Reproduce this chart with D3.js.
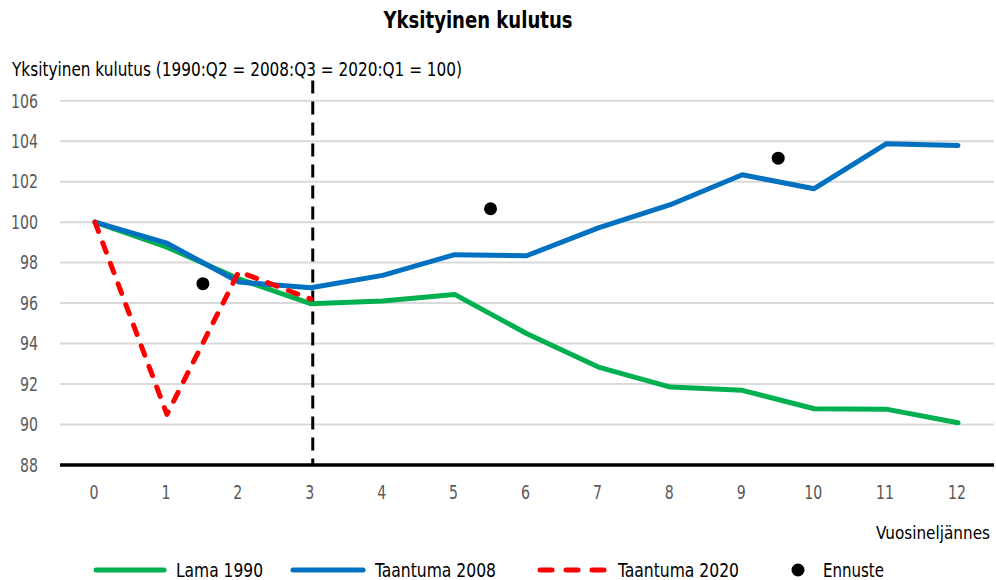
<!DOCTYPE html>
<html><head><meta charset="utf-8">
<script src="https://cdn.jsdelivr.net/npm/d3@7"></script>
<style>body{margin:0;background:#fff}svg{display:block}text{font-family:"DejaVu Sans Condensed","DejaVu Sans",sans-serif}</style>
</head><body><svg id="c" width="996" height="580"></svg>
<script>
const quarters = [0,1,2,3,4,5,6,7,8,9,10,11,12];
const lama1990 = [100,98.76,97.2,95.97,96.1,96.43,94.5,92.84,91.85,91.69,90.78,90.76,90.09];
const taantuma2008 = [100,98.96,97.04,96.76,97.37,98.39,98.34,99.72,100.86,102.34,101.65,103.87,103.79];
const taantuma2020 = [100,90.5,97.55,96.2];
const ennusteX = [1.5,5.5,9.5];
const ennusteY = [96.96,100.66,103.16];
const yTicks = [88,90,92,94,96,98,100,102,104,106];
const markerX = 3;

const svg = d3.select("#c");
const x = d3.scaleLinear().domain([0,12]).range([95,958]);
const y = d3.scaleLinear().domain([88,106]).range([465,100.7]);

function fit(sel, w){ sel.attr("textLength", w).attr("lengthAdjust","spacingAndGlyphs"); return sel; }

// gridlines
svg.append("g").selectAll("line").data(yTicks.filter(d=>d>88)).join("line")
  .attr("x1",60).attr("x2",994).attr("y1",d=>y(d)).attr("y2",d=>y(d))
  .attr("stroke","#d9d9d9").attr("stroke-width",2);

// y tick labels
svg.append("g").selectAll("text").data(yTicks).join("text")
  .attr("x",38).attr("y",d=>y(d)).attr("dy","0.36em").attr("text-anchor","end")
  .attr("font-size",19).attr("fill","#595959").text(d=>d)
  .attr("textLength",d=>String(d).length*9).attr("lengthAdjust","spacingAndGlyphs");

// x tick labels
svg.append("g").selectAll("text").data(quarters).join("text")
  .attr("x",d=>x(d)-1).attr("y",492).attr("dy","0.36em").attr("text-anchor","middle")
  .attr("font-size",19).attr("fill","#595959").text(d=>d)
  .attr("textLength",d=>String(d).length*9).attr("lengthAdjust","spacingAndGlyphs");

// vertical dashed line
svg.append("line").attr("x1",x(markerX)+2).attr("x2",x(markerX)+2).attr("y1",y(107)).attr("y2",y(88))
  .attr("stroke","#000").attr("stroke-width",3).attr("stroke-dasharray","13,8");

const line = d3.line().x((d,i)=>x(quarters[i])).y(d=>y(d));
svg.append("path").attr("d",line(lama1990)).attr("fill","none").attr("stroke","#00b050")
  .attr("stroke-width",5).attr("stroke-linejoin","round").attr("stroke-linecap","round");
svg.append("path").attr("d",line(taantuma2008)).attr("fill","none").attr("stroke","#0070c0")
  .attr("stroke-width",5).attr("stroke-linejoin","round").attr("stroke-linecap","round");
svg.append("path").attr("d",line(taantuma2020)).attr("fill","none").attr("stroke","#ff0000")
  .attr("stroke-width",5).attr("stroke-linejoin","round").attr("stroke-linecap","round")
  .attr("stroke-dasharray","10,12");

svg.append("g").selectAll("circle").data(ennusteX).join("circle")
  .attr("cx",d=>x(d)).attr("cy",(d,i)=>y(ennusteY[i])).attr("r",6.5).attr("fill","#000");

// x axis line
svg.append("line").attr("x1",60).attr("x2",994).attr("y1",y(88)).attr("y2",y(88))
  .attr("stroke","#000").attr("stroke-width",3.5);

// title & labels
fit(svg.append("text").attr("x",478).attr("y",28).attr("text-anchor","middle").attr("font-size",23)
  .attr("font-weight","bold").attr("fill","#000").text("Yksityinen kulutus"), 189);
fit(svg.append("text").attr("x",12).attr("y",76).attr("font-size",20).attr("fill","#000")
  .text("Yksityinen kulutus (1990:Q2 = 2008:Q3 = 2020:Q1 = 100)"), 450);
fit(svg.append("text").attr("x",876).attr("y",533).attr("dy","0.36em").attr("text-anchor","start")
  .attr("font-size",18).attr("fill","#000").text("Vuosineljännes"), 114);

// legend
const legY = 570;
const leg = [
  {name:"Lama 1990", color:"#00b050", x0:96, x1:164, tx:176, w:87, type:"line"},
  {name:"Taantuma 2008", color:"#0070c0", x0:293, x1:363, tx:375, w:121, type:"line"},
  {name:"Taantuma 2020", color:"#ff0000", x0:540, x1:606, tx:618, w:121, type:"dash"},
  {name:"Ennuste", color:"#000", x0:798, x1:798, tx:823, w:61, type:"dot"}
];
leg.forEach(l=>{
  if(l.type==="dot"){
    svg.append("circle").attr("cx",l.x0).attr("cy",legY).attr("r",6.5).attr("fill",l.color);
  } else {
    const ln = svg.append("line").attr("x1",l.x0).attr("x2",l.x1).attr("y1",legY).attr("y2",legY)
      .attr("stroke",l.color).attr("stroke-width",5).attr("stroke-linecap","round");
    if(l.type==="dash") ln.attr("stroke-dasharray","12,14");
  }
  fit(svg.append("text").attr("x",l.tx).attr("y",legY).attr("dy","0.36em").attr("font-size",19)
    .attr("fill","#000").text(l.name), l.w);
});
</script></body></html>
